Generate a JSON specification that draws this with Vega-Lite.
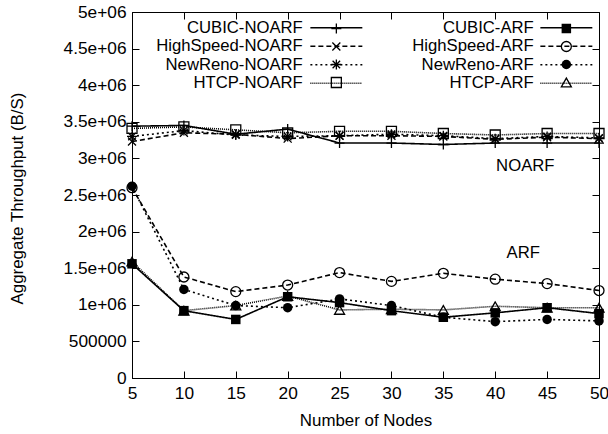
{
  "$schema": "https://vega.github.io/schema/vega-lite/v6.json",
  "width": 467,
  "height": 366,
  "autosize": {"type": "none"},
  "padding": {"left": 132, "top": 12, "right": 9, "bottom": 56},
  "config": {
    "font": "Liberation Sans",
    "view": {"stroke": "black", "strokeWidth": 1},
    "axis": {
      "grid": false,
      "domainColor": "black",
      "tickColor": "black",
      "labelColor": "black",
      "titleColor": "black",
      "labelFontSize": 17.3,
      "titleFontSize": 16.9,
      "titleFontWeight": "normal",
      "labelFont": "Liberation Sans",
      "titleFont": "Liberation Sans",
      "tickSize": -7,
      "tickWidth": 1
    },
    "legend": {
      "labelFont": "Liberation Sans",
      "labelFontSize": 16.7,
      "labelColor": "black",
      "padding": 0,
      "labelLimit": 0
    }
  },
  "datasets": {
    "noarf": [
      {"n": 5, "v": 3440000, "series": "CUBIC-NOARF"},
      {"n": 10, "v": 3450000, "series": "CUBIC-NOARF"},
      {"n": 15, "v": 3330000, "series": "CUBIC-NOARF"},
      {"n": 20, "v": 3400000, "series": "CUBIC-NOARF"},
      {"n": 25, "v": 3210000, "series": "CUBIC-NOARF"},
      {"n": 30, "v": 3210000, "series": "CUBIC-NOARF"},
      {"n": 35, "v": 3190000, "series": "CUBIC-NOARF"},
      {"n": 40, "v": 3210000, "series": "CUBIC-NOARF"},
      {"n": 45, "v": 3210000, "series": "CUBIC-NOARF"},
      {"n": 50, "v": 3210000, "series": "CUBIC-NOARF"},
      {"n": 5, "v": 3230000, "series": "HighSpeed-NOARF"},
      {"n": 10, "v": 3350000, "series": "HighSpeed-NOARF"},
      {"n": 15, "v": 3330000, "series": "HighSpeed-NOARF"},
      {"n": 20, "v": 3270000, "series": "HighSpeed-NOARF"},
      {"n": 25, "v": 3310000, "series": "HighSpeed-NOARF"},
      {"n": 30, "v": 3310000, "series": "HighSpeed-NOARF"},
      {"n": 35, "v": 3300000, "series": "HighSpeed-NOARF"},
      {"n": 40, "v": 3260000, "series": "HighSpeed-NOARF"},
      {"n": 45, "v": 3290000, "series": "HighSpeed-NOARF"},
      {"n": 50, "v": 3270000, "series": "HighSpeed-NOARF"},
      {"n": 5, "v": 3300000, "series": "NewReno-NOARF"},
      {"n": 10, "v": 3380000, "series": "NewReno-NOARF"},
      {"n": 15, "v": 3320000, "series": "NewReno-NOARF"},
      {"n": 20, "v": 3300000, "series": "NewReno-NOARF"},
      {"n": 25, "v": 3310000, "series": "NewReno-NOARF"},
      {"n": 30, "v": 3330000, "series": "NewReno-NOARF"},
      {"n": 35, "v": 3310000, "series": "NewReno-NOARF"},
      {"n": 40, "v": 3270000, "series": "NewReno-NOARF"},
      {"n": 45, "v": 3300000, "series": "NewReno-NOARF"},
      {"n": 50, "v": 3280000, "series": "NewReno-NOARF"},
      {"n": 5, "v": 3410000, "series": "HTCP-NOARF"},
      {"n": 10, "v": 3430000, "series": "HTCP-NOARF"},
      {"n": 15, "v": 3390000, "series": "HTCP-NOARF"},
      {"n": 20, "v": 3350000, "series": "HTCP-NOARF"},
      {"n": 25, "v": 3370000, "series": "HTCP-NOARF"},
      {"n": 30, "v": 3370000, "series": "HTCP-NOARF"},
      {"n": 35, "v": 3340000, "series": "HTCP-NOARF"},
      {"n": 40, "v": 3320000, "series": "HTCP-NOARF"},
      {"n": 45, "v": 3340000, "series": "HTCP-NOARF"},
      {"n": 50, "v": 3340000, "series": "HTCP-NOARF"}
    ],
    "arf": [
      {"n": 5, "v": 1560000, "series": "CUBIC-ARF"},
      {"n": 10, "v": 920000, "series": "CUBIC-ARF"},
      {"n": 15, "v": 800000, "series": "CUBIC-ARF"},
      {"n": 20, "v": 1110000, "series": "CUBIC-ARF"},
      {"n": 25, "v": 1030000, "series": "CUBIC-ARF"},
      {"n": 30, "v": 920000, "series": "CUBIC-ARF"},
      {"n": 35, "v": 830000, "series": "CUBIC-ARF"},
      {"n": 40, "v": 890000, "series": "CUBIC-ARF"},
      {"n": 45, "v": 960000, "series": "CUBIC-ARF"},
      {"n": 50, "v": 880000, "series": "CUBIC-ARF"},
      {"n": 5, "v": 2600000, "series": "HighSpeed-ARF"},
      {"n": 10, "v": 1380000, "series": "HighSpeed-ARF"},
      {"n": 15, "v": 1180000, "series": "HighSpeed-ARF"},
      {"n": 20, "v": 1270000, "series": "HighSpeed-ARF"},
      {"n": 25, "v": 1440000, "series": "HighSpeed-ARF"},
      {"n": 30, "v": 1320000, "series": "HighSpeed-ARF"},
      {"n": 35, "v": 1430000, "series": "HighSpeed-ARF"},
      {"n": 40, "v": 1350000, "series": "HighSpeed-ARF"},
      {"n": 45, "v": 1290000, "series": "HighSpeed-ARF"},
      {"n": 50, "v": 1195000, "series": "HighSpeed-ARF"},
      {"n": 5, "v": 2620000, "series": "NewReno-ARF"},
      {"n": 10, "v": 1210000, "series": "NewReno-ARF"},
      {"n": 15, "v": 990000, "series": "NewReno-ARF"},
      {"n": 20, "v": 960000, "series": "NewReno-ARF"},
      {"n": 25, "v": 1080000, "series": "NewReno-ARF"},
      {"n": 30, "v": 990000, "series": "NewReno-ARF"},
      {"n": 35, "v": 830000, "series": "NewReno-ARF"},
      {"n": 40, "v": 770000, "series": "NewReno-ARF"},
      {"n": 45, "v": 800000, "series": "NewReno-ARF"},
      {"n": 50, "v": 780000, "series": "NewReno-ARF"},
      {"n": 5, "v": 1590000, "series": "HTCP-ARF"},
      {"n": 10, "v": 920000, "series": "HTCP-ARF"},
      {"n": 15, "v": 990000, "series": "HTCP-ARF"},
      {"n": 20, "v": 1120000, "series": "HTCP-ARF"},
      {"n": 25, "v": 930000, "series": "HTCP-ARF"},
      {"n": 30, "v": 940000, "series": "HTCP-ARF"},
      {"n": 35, "v": 930000, "series": "HTCP-ARF"},
      {"n": 40, "v": 980000, "series": "HTCP-ARF"},
      {"n": 45, "v": 960000, "series": "HTCP-ARF"},
      {"n": 50, "v": 960000, "series": "HTCP-ARF"}
    ],
    "notes": [
      {"x": 42.9, "y": 2900000, "label": "NOARF"},
      {"x": 42.7, "y": 1710000, "label": "ARF"}
    ]
  },
  "resolve": {
    "scale": {"strokeDash": "independent", "shape": "independent"},
    "axis": {"x": "independent", "y": "independent"}
  },
  "layer": [
    {
      "data": {"name": "noarf"},
      "mark": {"type": "line", "color": "black", "strokeWidth": 1.6},
      "encoding": {
        "x": {
          "field": "n", "type": "quantitative",
          "scale": {"domain": [5, 50], "nice": false, "zero": false},
          "axis": {
            "orient": "bottom", "title": "Number of Nodes",
            "values": [5, 10, 15, 20, 25, 30, 35, 40, 45, 50],
            "labelPadding": 13, "titleX": 233.5, "titleY": 34, "titleBaseline": "top",
            "labelFlush": false
          }
        },
        "y": {
          "field": "v", "type": "quantitative",
          "scale": {"domain": [0, 5000000], "nice": false},
          "axis": {
            "orient": "left", "title": "Aggregate Throughput (B/S)",
            "values": [0, 500000, 1000000, 1500000, 2000000, 2500000, 3000000, 3500000, 4000000, 4500000, 5000000],
            "labelExpr": "datum.value < 1000000 ? format(datum.value, 'd') : format(datum.value / 1000000, '~g') + 'e+06'",
            "labelPadding": 13, "titleX": -115, "titleY": 186, "titleBaseline": "middle", "titleAngle": -90, "titleAlign": "center",
            "labelFlush": false
          }
        },
        "strokeDash": {
          "field": "series", "type": "nominal",
          "scale": {
            "domain": ["CUBIC-NOARF", "HighSpeed-NOARF", "NewReno-NOARF", "HTCP-NOARF"],
            "range": [[1, 0], [5, 3], [2, 3], [1, 1]]
          },
          "legend": {
            "orient": "none", "legendX": 196, "legendY": 7.5, "columns": 1,
            "rowPadding": 0.5, "title": null,
            "symbolType": "M-5,0L5,0", "symbolSize": 108, "symbolStrokeWidth": 1.5, "symbolStrokeColor": "black",
            "labelAlign": "right", "labelOffset": -41.9
          }
        }
      }
    },
    {
      "data": {"name": "arf"},
      "mark": {"type": "line", "color": "black", "strokeWidth": 1.6},
      "encoding": {
        "x": {"field": "n", "type": "quantitative", "axis": null},
        "y": {"field": "v", "type": "quantitative", "axis": null},
        "strokeDash": {
          "field": "series", "type": "nominal",
          "scale": {
            "domain": ["CUBIC-ARF", "HighSpeed-ARF", "NewReno-ARF", "HTCP-ARF"],
            "range": [[1, 0], [5, 3], [2, 3], [1, 1]]
          },
          "legend": {
            "orient": "none", "legendX": 426, "legendY": 7.5, "columns": 1,
            "rowPadding": 0.5, "title": null,
            "symbolType": "M-5,0L5,0", "symbolSize": 108, "symbolStrokeWidth": 1.5, "symbolStrokeColor": "black",
            "labelAlign": "right", "labelOffset": -40.9
          }
        }
      }
    },
    {
      "data": {"name": "noarf"},
      "mark": {"type": "point", "filled": false, "stroke": "black", "strokeWidth": 1.3, "size": 100, "opacity": 1},
      "encoding": {
        "x": {
          "field": "n", "type": "quantitative",
          "axis": {"orient": "top", "labels": false, "title": null, "domain": false, "values": [5, 10, 15, 20, 25, 30, 35, 40, 45, 50]}
        },
        "y": {
          "field": "v", "type": "quantitative",
          "axis": {"orient": "right", "labels": false, "title": null, "domain": false,
            "values": [0, 500000, 1000000, 1500000, 2000000, 2500000, 3000000, 3500000, 4000000, 4500000, 5000000]}
        },
        "shape": {
          "field": "series", "type": "nominal",
          "scale": {
            "domain": ["CUBIC-NOARF", "HighSpeed-NOARF", "NewReno-NOARF", "HTCP-NOARF"],
            "range": [
              "M-1,0L1,0M0,-1L0,1",
              "M-0.8,-0.8L0.8,0.8M-0.8,0.8L0.8,-0.8",
              "M-1,0L1,0M0,-1L0,1M-0.75,-0.75L0.75,0.75M-0.75,0.75L0.75,-0.75",
              "square"
            ]
          },
          "legend": {
            "orient": "none", "legendX": 196, "legendY": 7.5, "columns": 1,
            "rowPadding": 0, "clipHeight": 18, "title": null,
            "symbolSize": 100, "symbolStrokeWidth": 1.3, "symbolStrokeColor": "black", "symbolFillColor": "transparent",
            "labelExpr": "''", "labelOffset": 0
          }
        }
      }
    },
    {
      "data": {"name": "arf"},
      "transform": [{"filter": {"field": "series", "oneOf": ["CUBIC-ARF", "NewReno-ARF"]}}],
      "mark": {"type": "point", "filled": true, "color": "black", "size": 90, "opacity": 1},
      "encoding": {
        "x": {"field": "n", "type": "quantitative", "axis": null},
        "y": {"field": "v", "type": "quantitative", "axis": null},
        "shape": {
          "field": "series", "type": "nominal",
          "scale": {"domain": ["CUBIC-ARF", "NewReno-ARF"], "range": ["square", "circle"]},
          "legend": {
            "orient": "none", "legendX": 426, "legendY": 7.5, "columns": 1,
            "rowPadding": 18, "clipHeight": 18, "title": null,
            "symbolSize": 90, "symbolStrokeWidth": 0, "symbolFillColor": "black",
            "labelExpr": "''", "labelOffset": 0
          }
        }
      }
    },
    {
      "data": {"name": "arf"},
      "transform": [{"filter": {"field": "series", "oneOf": ["HighSpeed-ARF", "HTCP-ARF"]}}],
      "mark": {"type": "point", "filled": false, "stroke": "black", "strokeWidth": 1.3, "size": 100, "opacity": 1},
      "encoding": {
        "x": {"field": "n", "type": "quantitative", "axis": null},
        "y": {"field": "v", "type": "quantitative", "axis": null},
        "shape": {
          "field": "series", "type": "nominal",
          "scale": {"domain": ["HighSpeed-ARF", "HTCP-ARF"], "range": ["circle", "triangle-up"]},
          "legend": {
            "orient": "none", "legendX": 426, "legendY": 25.5, "columns": 1,
            "rowPadding": 18, "clipHeight": 18, "title": null,
            "symbolSize": 100, "symbolStrokeWidth": 1.3, "symbolStrokeColor": "black", "symbolFillColor": "transparent",
            "labelExpr": "''", "labelOffset": 0
          }
        }
      }
    },
    {
      "data": {"name": "notes"},
      "mark": {"type": "text", "font": "Liberation Sans", "fontSize": 16.7, "color": "black", "align": "center", "baseline": "middle"},
      "encoding": {
        "x": {"field": "x", "type": "quantitative", "axis": null},
        "y": {"field": "y", "type": "quantitative", "axis": null},
        "text": {"field": "label"}
      }
    }
  ]
}
